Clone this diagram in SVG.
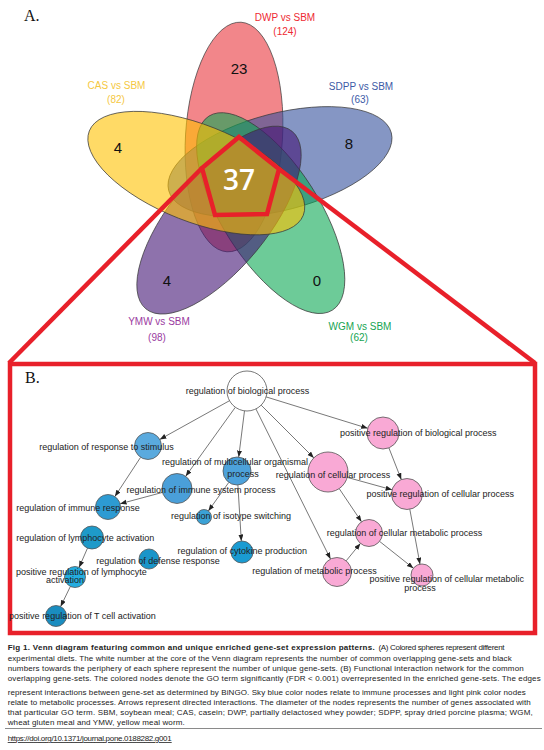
<svg xmlns="http://www.w3.org/2000/svg" width="544" height="750" viewBox="0 0 544 750">
<style>
.venn{stroke:#3a3a3a;stroke-width:0.7;fill-opacity:0.6}
.lbl{font-family:"Liberation Sans",Arial,sans-serif;font-size:10px;text-anchor:middle}
.num{font-family:"Liberation Sans",Arial,sans-serif;font-size:15px;text-anchor:middle;fill:#111}
.red{fill:none;stroke:#e8202a;stroke-width:4.5}
.edge{stroke:#555;stroke-width:0.8;fill:none;marker-end:url(#arr)}
.nd circle{stroke:#555;stroke-width:0.8}
.nt{font-family:"Liberation Sans",Arial,sans-serif;font-size:9px;text-anchor:middle;fill:#222}
.cap{font-family:"Liberation Sans",Arial,sans-serif;font-size:8px;fill:#222}
.panel{font-family:"Liberation Serif","Times New Roman",serif;font-size:16px;fill:#111}
</style>
<defs>
<marker id="arr" markerUnits="userSpaceOnUse" markerWidth="7" markerHeight="6" refX="6.5" refY="2.5" orient="auto"><path d="M0,0 L6.5,2.5 L0,5 z" fill="#222"/></marker>
</defs>
<rect width="544" height="750" fill="#fff"/>

<!-- Panel A: Venn -->
<text class="panel" x="24" y="21">A.</text>
<g id="venn">
<ellipse id="set-dwp" class="venn" cx="234" cy="137" rx="115" ry="48.5" fill="#e9353c" transform="rotate(93.5 234 137)"/>
<ellipse id="set-sdpp" class="venn" cx="280" cy="161.7" rx="115" ry="48.5" fill="#34509d" transform="rotate(-14.5 280 161.7)"/>
<ellipse id="set-wgm" class="venn" cx="270.7" cy="213.1" rx="115" ry="48.5" fill="#0ca853" transform="rotate(57.5 270.7 213.1)"/>
<ellipse id="set-ymw" class="venn" cx="219" cy="220.1" rx="115" ry="48.5" fill="#431475" transform="rotate(129.5 219 220.1)"/>
<ellipse id="set-cas" class="venn" cx="196.3" cy="173.1" rx="115" ry="48.5" fill="#ffc100" fill-opacity="0.5" transform="rotate(21.5 196.3 173.1)"/>
</g>
<g id="venn-labels">
<text class="lbl" x="285" y="20.5" fill="#ee2a33">DWP vs SBM</text>
<text class="lbl" x="285" y="35" fill="#ee2a33">(124)</text>
<text class="lbl" x="116.5" y="88.5" fill="#f5c842">CAS vs SBM</text>
<text class="lbl" x="116" y="102.5" fill="#f5c842">(82)</text>
<text class="lbl" x="361" y="89.5" fill="#3c5aa6">SDPP vs SBM</text>
<text class="lbl" x="360" y="102.5" fill="#3c5aa6">(63)</text>
<text class="lbl" x="159" y="324.5" fill="#9b3b9f">YMW vs SBM</text>
<text class="lbl" x="157" y="340.5" fill="#9b3b9f">(98)</text>
<text class="lbl" x="360" y="329.5" fill="#16a452">WGM vs SBM</text>
<text class="lbl" x="359" y="340.5" fill="#16a452">(62)</text>
<text class="num" x="239" y="73.5">23</text>
<text class="num" x="118" y="152.5">4</text>
<text class="num" x="349" y="148.5">8</text>
<text class="num" x="167" y="285.5">4</text>
<text class="num" x="317" y="285.5">0</text>
<text x="239" y="190" text-anchor="middle" font-family="'Open Sans','Liberation Sans',sans-serif" font-weight="600" font-size="28" fill="#fff">37</text>
</g>

<!-- zoom callout -->
<g id="callout">
<polygon class="red" points="239,137 279,169 267,214 215,215 202,168" stroke-width="4"/>
<line class="red" x1="202" y1="168" x2="9" y2="363"/>
<line class="red" x1="279" y1="169" x2="535" y2="363"/>
<rect class="red" x="10" y="364" width="525" height="269"/>
</g>

<!-- Panel B -->
<text class="panel" x="25" y="383">B.</text>
<g id="edges">
<line class="edge" x1="229.5" y1="400.7" x2="159.8" y2="439.4"/>
<line class="edge" x1="235.3" y1="407.3" x2="185.7" y2="476.3"/>
<line class="edge" x1="244.5" y1="410.8" x2="238.7" y2="457.1"/>
<line class="edge" x1="255.9" y1="408.9" x2="330.5" y2="559"/>
<line class="edge" x1="261.1" y1="405.1" x2="313.9" y2="457.9"/>
<line class="edge" x1="266.1" y1="396.9" x2="367.7" y2="428.3"/>
<line class="edge" x1="140.6" y1="457.3" x2="114.9" y2="496.5"/>
<line class="edge" x1="162.5" y1="492.4" x2="120.1" y2="503.8"/>
<line class="edge" x1="228.8" y1="482.4" x2="208.4" y2="510.9"/>
<line class="edge" x1="237.9" y1="485" x2="241.3" y2="541"/>
<line class="edge" x1="388.9" y1="447.9" x2="401.3" y2="479.6"/>
<line class="edge" x1="347.3" y1="477.4" x2="392.1" y2="489.8"/>
<line class="edge" x1="339.2" y1="488.6" x2="361.5" y2="521.8"/>
<line class="edge" x1="346.2" y1="560.8" x2="360.4" y2="543.4"/>
<line class="edge" x1="379.6" y1="541.4" x2="413.4" y2="568.2"/>
<line class="edge" x1="409.8" y1="509.2" x2="420" y2="564.2"/>
<line class="edge" x1="87.5" y1="548.1" x2="79.1" y2="567.4"/>
<line class="edge" x1="70.4" y1="586.4" x2="60.6" y2="606.6"/>
</g>

<g id="n-bio" class="nd"><circle cx="247" cy="391" r="20" fill="#fff"/><text class="nt" x="247.5" y="393.5">regulation of biological process</text></g>
<g id="n-stim" class="nd"><circle cx="148" cy="446" r="13.5" fill="#5aaade"/><text class="nt" x="106.5" y="449.5">regulation of response to stimulus</text></g>
<g id="n-multi" class="nd"><circle cx="237" cy="471" r="14" fill="#4da2db"/><text class="nt" x="235" y="465">regulation of multicellular organismal</text><text class="nt" x="243" y="477">process</text></g>
<g id="n-immsys" class="nd"><circle cx="177" cy="488.5" r="15" fill="#4a9fd9"/><text class="nt" x="201" y="493">regulation of immune system process</text></g>
<g id="n-immresp" class="nd"><circle cx="108" cy="507" r="12.5" fill="#2d9bd3"/><text class="nt" x="78" y="511">regulation of immune response</text></g>
<g id="n-lymph" class="nd"><circle cx="92" cy="537.5" r="11.5" fill="#1e9ac9"/><text class="nt" x="85.3" y="541">regulation of lymphocyte activation</text></g>
<g id="n-poslymph" class="nd"><circle cx="75" cy="577" r="10.5" fill="#24ade0"/><text class="nt" x="81.4" y="574.5">positive regulation of lymphocyte</text><text class="nt" x="65" y="583">activation</text></g>
<g id="n-tcell" class="nd"><circle cx="56" cy="616" r="10.5" fill="#1a8dc0"/><text class="nt" x="82.5" y="619">positive regulation of T cell activation</text></g>
<g id="n-defense" class="nd"><circle cx="149" cy="559" r="10" fill="#1a95c9"/><text class="nt" x="158" y="563.5">regulation of defense response</text></g>
<g id="n-isotype" class="nd"><circle cx="204" cy="517" r="7.5" fill="#3ba2d6"/><text class="nt" x="231" y="519">regulation of isotype switching</text></g>
<g id="n-cytokine" class="nd"><circle cx="242" cy="552" r="11" fill="#1a9bd2"/><text class="nt" x="242.3" y="554">regulation of cytokine production</text></g>
<g id="n-posbio" class="nd"><circle cx="383" cy="433" r="16" fill="#f9a9d5"/><text class="nt" x="418.3" y="435.5">positive regulation of biological process</text></g>
<g id="n-cell" class="nd"><circle cx="328" cy="472" r="20" fill="#f9a9d5"/><text class="nt" x="333" y="477.5">regulation of cellular process</text></g>
<g id="n-poscell" class="nd"><circle cx="407" cy="494" r="15.5" fill="#f9a9d5"/><text class="nt" x="440.3" y="497">positive regulation of cellular process</text></g>
<g id="n-cellmet" class="nd"><circle cx="369" cy="533" r="13.5" fill="#f9a9d5"/><text class="nt" x="404.5" y="535.5">regulation of cellular metabolic process</text></g>
<g id="n-met" class="nd"><circle cx="337" cy="572" r="14.5" fill="#f9a9d5"/><text class="nt" x="314.5" y="573.5">regulation of metabolic process</text></g>
<g id="n-poscellmet" class="nd"><circle cx="422" cy="575" r="11" fill="#f9a9d5"/><text class="nt" x="446.7" y="582">positive regulation of cellular metabolic</text><text class="nt" x="420" y="591">process</text></g>

<!-- Caption -->
<g id="caption">
<text class="cap" y="650"><tspan x="7.7" font-weight="bold" textLength="367" lengthAdjust="spacing">Fig 1. Venn diagram featuring common and unique enriched gene-set expression patterns.</tspan><tspan x="378.5" textLength="126" lengthAdjust="spacing">(A) Colored spheres represent different</tspan></text>
<text class="cap" x="7.7" y="661" textLength="504" lengthAdjust="spacing">experimental diets. The white number at the core of the Venn diagram represents the number of common overlapping gene-sets and black</text>
<text class="cap" x="7.7" y="671" textLength="516" lengthAdjust="spacing">numbers towards the periphery of each sphere represent the number of unique gene-sets. (B) Functional interaction network for the common</text>
<text class="cap" x="7.7" y="681" textLength="533" lengthAdjust="spacing">overlapping gene-sets. The colored nodes denote the GO term significantly (FDR &lt; 0.001) overrepresented in the enriched gene-sets. The edges</text>
<text class="cap" x="7.7" y="695" textLength="518" lengthAdjust="spacing">represent interactions between gene-set as determined by BiNGO. Sky blue color nodes relate to immune processes and light pink color nodes</text>
<text class="cap" x="7.7" y="705" textLength="523" lengthAdjust="spacing">relate to metabolic processes. Arrows represent directed interactions. The diameter of the nodes represents the number of genes associated with</text>
<text class="cap" x="7.7" y="715" textLength="525" lengthAdjust="spacing">that particular GO term. SBM, soybean meal; CAS, casein; DWP, partially delactosed whey powder; SDPP, spray dried porcine plasma; WGM,</text>
<text class="cap" x="7.7" y="725" textLength="177" lengthAdjust="spacing">wheat gluten meal and YMW, yellow meal worm.</text>
<line x1="5" y1="728.5" x2="542" y2="728.5" stroke="#8a8a8a" stroke-width="1"/>
<text class="cap" x="7.7" y="741" textLength="164" lengthAdjust="spacing" fill="#1a5bb5" text-decoration="underline">https://doi.org/10.1371/journal.pone.0188282.g001</text>
</g>
</svg>
